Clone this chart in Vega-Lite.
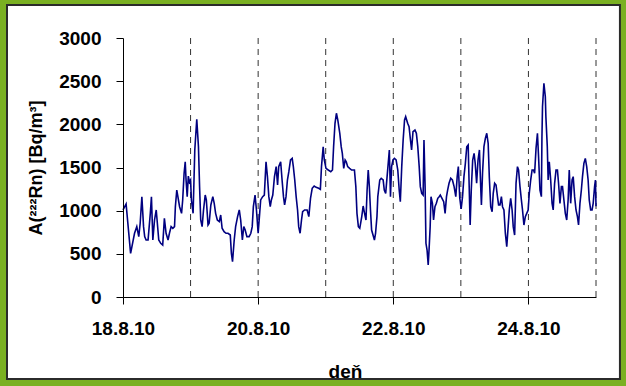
{
  "$schema": "https://vega.github.io/schema/vega-lite/v6.json",
  "width": 473,
  "height": 259,
  "autosize": {"type": "none"},
  "padding": {"left": 123, "top": 38, "right": 30, "bottom": 89},
  "background": "#7ab022",
  "config": {
    "view": {"stroke": null},
    "font": "Liberation Sans",
    "axis": {
      "domainColor": "#000000",
      "tickColor": "#000000",
      "labelColor": "#000000",
      "titleColor": "#000000",
      "labelFont": "Liberation Sans",
      "titleFont": "Liberation Sans",
      "labelFontWeight": "bold",
      "titleFontWeight": "bold",
      "labelFontSize": 19,
      "titleFontSize": 19,
      "grid": false,
      "tickSize": 7,
      "domainWidth": 1,
      "tickWidth": 1
    }
  },
  "layer": [
    {
      "data": {"values": [{"part": "chart area"}]},
      "mark": {"type": "rect", "fill": "#ffffff", "stroke": "#2b2b2b", "strokeWidth": 2},
      "encoding": {
        "x": {"datum": -41.2, "type": "quantitative", "scale": {"domain": [0, 168], "nice": false, "zero": false}, "title": "deň"},
        "x2": {"datum": 176.5},
        "y": {"datum": 3382, "type": "quantitative", "scale": {"domain": [0, 3000], "nice": false}, "title": "A(²²²Rn) [Bq/m³]"},
        "y2": {"datum": -950}
      }
    },
    {
      "data": {"values": [{"t": 24}, {"t": 48}, {"t": 72}, {"t": 96}, {"t": 120}, {"t": 144}, {"t": 168}]},
      "mark": {"type": "rule", "stroke": "#333333", "strokeDash": [6, 5], "strokeWidth": 1},
      "encoding": {
        "x": {"field": "t", "type": "quantitative", "scale": {"domain": [0, 168], "nice": false, "zero": false}, "title": "deň"}
      }
    },
    {
      "data": {"values": [
        {"t":0,"v":1008},{"t":1.1,"v":1077},{"t":2.7,"v":506},{"t":4.1,"v":738},{"t":4.9,"v":815},{"t":5.6,"v":699},{"t":6.1,"v":854},{"t":6.7,"v":1162},{"t":7.3,"v":815},{"t":7.7,"v":699},{"t":8.2,"v":660},{"t":8.9,"v":660},{"t":9.7,"v":969},{"t":10.1,"v":1162},{"t":10.6,"v":660},{"t":11.2,"v":892},{"t":11.8,"v":1008},{"t":12.2,"v":854},{"t":12.7,"v":660},{"t":13.4,"v":622},{"t":14.1,"v":602},{"t":14.7,"v":911},{"t":15.3,"v":738},{"t":16.0,"v":660},{"t":16.5,"v":738},{"t":17.1,"v":815},{"t":17.7,"v":796},{"t":18.3,"v":815},{"t":18.6,"v":1046},{"t":19.1,"v":1239},{"t":19.6,"v":1143},{"t":20.1,"v":1046},{"t":20.8,"v":969},{"t":21.2,"v":1124},{"t":21.7,"v":1433},{"t":22.1,"v":1567},{"t":22.4,"v":1355},{"t":22.8,"v":1162},{"t":23.2,"v":1400},{"t":23.6,"v":1330},{"t":24.0,"v":1355},{"t":24.3,"v":1124},{"t":24.9,"v":969},{"t":25.5,"v":1703},{"t":26.2,"v":2058},{"t":26.8,"v":1741},{"t":27.2,"v":1278},{"t":27.6,"v":892},{"t":28.1,"v":815},{"t":28.6,"v":1008},{"t":29.2,"v":1181},{"t":29.6,"v":1124},{"t":30.2,"v":834},{"t":30.6,"v":854},{"t":31.2,"v":1066},{"t":31.9,"v":1162},{"t":32.4,"v":1085},{"t":32.9,"v":969},{"t":33.5,"v":892},{"t":34.2,"v":873},{"t":34.7,"v":950},{"t":35.2,"v":796},{"t":35.9,"v":757},{"t":36.6,"v":738},{"t":37.3,"v":738},{"t":38.1,"v":718},{"t":38.5,"v":506},{"t":38.9,"v":409},{"t":39.5,"v":660},{"t":40.0,"v":815},{"t":40.7,"v":931},{"t":41.3,"v":1008},{"t":41.8,"v":892},{"t":42.4,"v":660},{"t":42.9,"v":815},{"t":43.4,"v":776},{"t":44.0,"v":699},{"t":44.8,"v":699},{"t":45.4,"v":738},{"t":45.9,"v":815},{"t":46.3,"v":1046},{"t":46.9,"v":1181},{"t":47.4,"v":1008},{"t":48.0,"v":738},{"t":48.5,"v":950},{"t":48.9,"v":1124},{"t":49.6,"v":1162},{"t":50.2,"v":1181},{"t":50.8,"v":1567},{"t":51.3,"v":1394},{"t":51.8,"v":1162},{"t":52.3,"v":1046},{"t":52.7,"v":1124},{"t":53.2,"v":1181},{"t":53.8,"v":1394},{"t":54.4,"v":1510},{"t":54.9,"v":1297},{"t":55.3,"v":1510},{"t":56.0,"v":1567},{"t":56.5,"v":1355},{"t":57.0,"v":1162},{"t":57.4,"v":1066},{"t":57.9,"v":1162},{"t":58.4,"v":1355},{"t":58.9,"v":1452},{"t":59.5,"v":1587},{"t":60.1,"v":1606},{"t":60.5,"v":1510},{"t":61.0,"v":1355},{"t":61.5,"v":1162},{"t":62.0,"v":1008},{"t":62.4,"v":815},{"t":62.9,"v":738},{"t":63.4,"v":892},{"t":63.8,"v":988},{"t":64.5,"v":1008},{"t":65.4,"v":1008},{"t":66.0,"v":931},{"t":66.6,"v":1143},{"t":67.2,"v":1259},{"t":67.9,"v":1286},{"t":68.6,"v":1270},{"t":69.5,"v":1259},{"t":70.1,"v":1247},{"t":70.5,"v":1510},{"t":71.1,"v":1741},{"t":71.5,"v":1587},{"t":72.1,"v":1490},{"t":72.9,"v":1471},{"t":73.8,"v":1452},{"t":74.4,"v":1471},{"t":74.8,"v":1741},{"t":75.3,"v":2012},{"t":75.8,"v":2128},{"t":76.3,"v":2050},{"t":77.0,"v":1896},{"t":77.5,"v":1741},{"t":77.9,"v":1664},{"t":78.4,"v":1490},{"t":78.9,"v":1587},{"t":79.3,"v":1567},{"t":79.8,"v":1510},{"t":80.5,"v":1490},{"t":81.2,"v":1471},{"t":82.2,"v":1471},{"t":82.7,"v":1278},{"t":83.1,"v":969},{"t":83.6,"v":815},{"t":84.1,"v":796},{"t":84.8,"v":931},{"t":85.3,"v":1054},{"t":85.8,"v":969},{"t":86.3,"v":892},{"t":86.7,"v":1239},{"t":87.1,"v":1471},{"t":87.5,"v":1278},{"t":87.9,"v":1008},{"t":88.3,"v":776},{"t":88.8,"v":718},{"t":89.3,"v":660},{"t":89.7,"v":738},{"t":90.2,"v":931},{"t":90.5,"v":1162},{"t":91.2,"v":1355},{"t":91.7,"v":1375},{"t":92.4,"v":1355},{"t":92.8,"v":1239},{"t":93.3,"v":1201},{"t":93.8,"v":1394},{"t":94.3,"v":1587},{"t":94.6,"v":1703},{"t":95.0,"v":1162},{"t":95.4,"v":1510},{"t":95.9,"v":1587},{"t":96.4,"v":1606},{"t":97.0,"v":1587},{"t":97.6,"v":1471},{"t":98.1,"v":1239},{"t":98.5,"v":1104},{"t":99.0,"v":1510},{"t":99.5,"v":1819},{"t":100.0,"v":2050},{"t":100.4,"v":2089},{"t":101.1,"v":2012},{"t":101.6,"v":1973},{"t":102.1,"v":1819},{"t":102.5,"v":1703},{"t":103.0,"v":1915},{"t":103.7,"v":1934},{"t":104.2,"v":1896},{"t":104.7,"v":1741},{"t":105.2,"v":1510},{"t":105.6,"v":1278},{"t":106.1,"v":1201},{"t":106.6,"v":1181},{"t":106.9,"v":1819},{"t":107.3,"v":1278},{"t":107.6,"v":622},{"t":108.0,"v":544},{"t":108.4,"v":371},{"t":108.7,"v":544},{"t":109.1,"v":815},{"t":109.4,"v":1162},{"t":109.9,"v":1085},{"t":110.3,"v":892},{"t":110.8,"v":1046},{"t":111.3,"v":1085},{"t":111.8,"v":1143},{"t":112.3,"v":1162},{"t":112.7,"v":1181},{"t":113.3,"v":1143},{"t":113.9,"v":1104},{"t":114.4,"v":969},{"t":114.9,"v":1162},{"t":115.3,"v":1239},{"t":115.8,"v":1317},{"t":116.4,"v":1375},{"t":117.0,"v":1355},{"t":117.6,"v":1278},{"t":118.2,"v":1162},{"t":118.7,"v":1394},{"t":119.1,"v":1510},{"t":119.6,"v":1150},{"t":120.1,"v":1020},{"t":120.6,"v":1162},{"t":121.1,"v":1394},{"t":121.6,"v":1548},{"t":122.1,"v":1741},{"t":122.6,"v":1761},{"t":122.9,"v":1355},{"t":123.3,"v":834},{"t":123.7,"v":1239},{"t":124.2,"v":1587},{"t":124.7,"v":1664},{"t":125.1,"v":1548},{"t":125.6,"v":1317},{"t":126.1,"v":1587},{"t":126.6,"v":1703},{"t":127.0,"v":1317},{"t":127.3,"v":1066},{"t":127.7,"v":1433},{"t":128.2,"v":1741},{"t":128.7,"v":1838},{"t":129.2,"v":1896},{"t":129.7,"v":1780},{"t":130.1,"v":1394},{"t":130.6,"v":1046},{"t":131.1,"v":988},{"t":131.5,"v":1201},{"t":132.0,"v":1317},{"t":132.5,"v":1297},{"t":133.0,"v":1162},{"t":133.4,"v":1066},{"t":133.9,"v":1066},{"t":134.4,"v":1162},{"t":134.8,"v":1046},{"t":135.3,"v":1008},{"t":135.8,"v":738},{"t":136.3,"v":583},{"t":136.8,"v":815},{"t":137.2,"v":1008},{"t":137.7,"v":1143},{"t":138.2,"v":1008},{"t":138.6,"v":815},{"t":139.1,"v":718},{"t":139.6,"v":1317},{"t":140.1,"v":1510},{"t":140.5,"v":1471},{"t":141.0,"v":1278},{"t":141.5,"v":1124},{"t":141.9,"v":1008},{"t":142.4,"v":834},{"t":142.9,"v":931},{"t":143.4,"v":969},{"t":143.9,"v":1008},{"t":144.3,"v":1201},{"t":144.8,"v":1355},{"t":145.3,"v":1471},{"t":145.8,"v":1471},{"t":146.2,"v":1433},{"t":146.7,"v":1722},{"t":147.2,"v":1896},{"t":147.6,"v":1625},{"t":148.1,"v":1239},{"t":148.6,"v":1162},{"t":148.8,"v":1857},{"t":149.0,"v":2204},{"t":149.5,"v":2475},{"t":150.0,"v":2320},{"t":150.2,"v":2089},{"t":150.7,"v":1741},{"t":151.0,"v":1355},{"t":151.4,"v":1567},{"t":151.9,"v":1355},{"t":152.4,"v":1085},{"t":152.8,"v":1008},{"t":153.3,"v":1317},{"t":153.8,"v":1471},{"t":154.3,"v":1471},{"t":154.7,"v":1317},{"t":155.2,"v":1085},{"t":155.7,"v":1278},{"t":156.1,"v":1278},{"t":156.6,"v":1124},{"t":157.1,"v":969},{"t":157.6,"v":892},{"t":158.1,"v":1124},{"t":158.5,"v":1471},{"t":159.0,"v":1085},{"t":159.5,"v":1355},{"t":159.9,"v":1394},{"t":160.4,"v":1162},{"t":160.9,"v":1008},{"t":161.4,"v":931},{"t":161.8,"v":834},{"t":162.3,"v":1085},{"t":162.8,"v":1239},{"t":163.2,"v":1394},{"t":163.7,"v":1548},{"t":164.2,"v":1606},{"t":164.7,"v":1510},{"t":165.2,"v":1355},{"t":165.6,"v":1124},{"t":166.1,"v":1008},{"t":166.6,"v":1008},{"t":167.0,"v":1085},{"t":167.5,"v":1278},{"t":167.8,"v":1355},{"t":168.0,"v":1050}
      ]},
      "mark": {"type": "line", "color": "#000080", "strokeWidth": 1.6},
      "encoding": {
        "x": {
          "field": "t", "type": "quantitative",
          "scale": {"domain": [0, 168], "nice": false, "zero": false},
          "title": "deň",
          "axis": {
            "zindex": 1,
            "values": [0, 48, 96, 144],
            "labelExpr": "timeFormat(datetime(2010, 7, 18 + datum.value / 24), '%-d.%-m.%y')",
            "labelPadding": 15,
            "labelFlush": false,
            "labelOverlap": false,
            "titleX": 222,
            "titleY": 80,
            "titleAlign": "center",
            "titleBaseline": "alphabetic"
          }
        },
        "y": {
          "field": "v", "type": "quantitative",
          "scale": {"domain": [0, 3000], "nice": false},
          "title": "A(²²²Rn) [Bq/m³]",
          "axis": {
            "zindex": 1,
            "values": [0, 500, 1000, 1500, 2000, 2500, 3000],
            "format": "d",
            "labelPadding": 15,
            "titleFontSize": 18,
            "titleAngle": 270,
            "titleX": -82,
            "titleY": 129.5,
            "titleAlign": "center",
            "titleBaseline": "alphabetic"
          }
        }
      }
    }
  ]
}
